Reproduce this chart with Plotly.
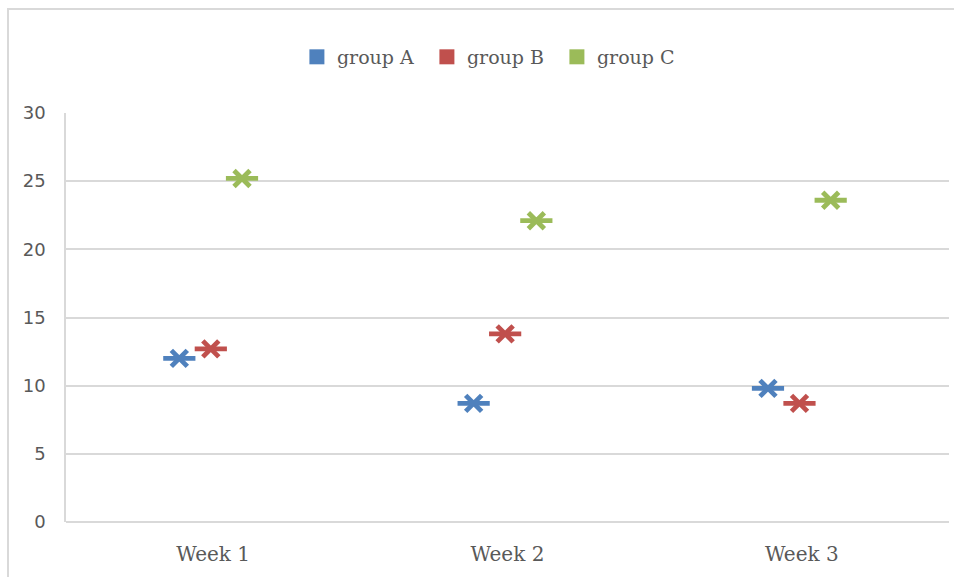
import plotly.graph_objects as go

# Weekly readings for three groups
weeks = ["Week 1", "Week 2", "Week 3"]
group_a = [12.0, 8.7, 9.8]
group_b = [12.7, 13.8, 8.7]
group_c = [25.2, 22.1, 23.6]

series = [
    ("group A", group_a, "#4F81BD", -0.115),
    ("group B", group_b, "#C0504D", -0.008),
    ("group C", group_c, "#9BBB59", 0.098),
]

fig = go.Figure()

for name, values, color, shift in series:
    xs = [i + shift for i in range(len(weeks))]
    # asterisk marker built from a thin X plus a horizontal bar
    fig.add_trace(go.Scatter(
        x=xs, y=values, mode="markers", showlegend=False, name=name,
        marker=dict(symbol="x-thin-open", size=16,
                    line=dict(color=color, width=4.8), color=color),
    ))
    fig.add_trace(go.Scatter(
        x=xs, y=values, mode="markers", showlegend=False, name=name,
        marker=dict(symbol="line-ew-open", size=23,
                    line=dict(color=color, width=4.8), color=color),
    ))
    # legend swatch
    fig.add_trace(go.Scatter(
        x=[None], y=[None], mode="markers", name=name,
        marker=dict(symbol="square", size=15, color=color),
    ))

grid = "#D9D9D9"
text_col = "#595959"

fig.update_layout(
    width=954, height=577,
    margin=dict(l=66, r=5, t=113, b=55),
    paper_bgcolor="white", plot_bgcolor="white",
    showlegend=True,
    legend=dict(
        orientation="h", x=0.2615, xanchor="left", y=1.137, yanchor="middle",
        font=dict(family="DejaVu Serif", size=19, color=text_col),
        itemclick=False, tracegroupgap=0,
        entrywidth=85, entrywidthmode="pixels",
    ),
    xaxis=dict(
        range=[-0.5, 2.5], tickmode="array", tickvals=[0, 1, 2], ticktext=weeks,
        showgrid=False, zeroline=False, showline=False,
        ticks="outside", ticklen=0, ticklabelstandoff=14,
        tickfont=dict(family="DejaVu Serif", size=20, color=text_col),
    ),
    yaxis=dict(
        range=[0, 30], tickmode="array", tickvals=[0, 5, 10, 15, 20, 25, 30],
        showgrid=True, gridcolor=grid, gridwidth=1.5,
        zeroline=True, zerolinecolor=grid, zerolinewidth=1.5,
        showline=True, linecolor=grid, linewidth=1.5,
        ticks="outside", ticklen=0, ticklabelstandoff=15,
        tickfont=dict(family="DejaVu Sans", size=18, color=text_col),
    ),
    shapes=[dict(
        type="rect", xref="paper", yref="paper",
        x0=(8 - 66) / 883, x1=1.2, y0=-0.3, y1=1 + (113 - 9) / 409,
        line=dict(color=grid, width=2), fillcolor="rgba(0,0,0,0)", layer="below",
    )],
)

fig.write_html("out.html")
